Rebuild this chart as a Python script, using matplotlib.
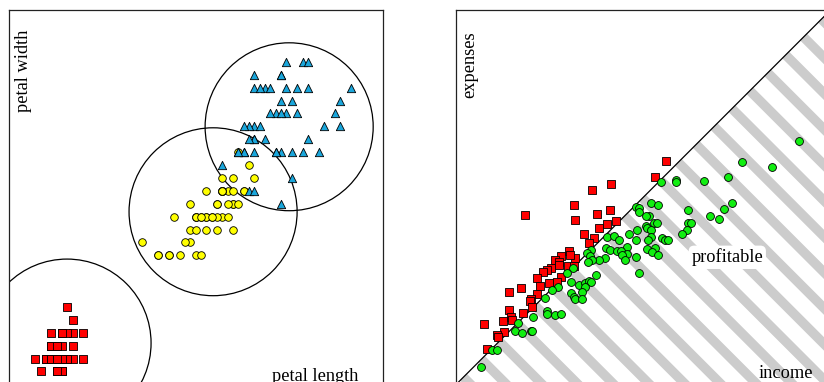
import matplotlib
matplotlib.use("Agg")
import matplotlib.pyplot as plt
from matplotlib.patches import Ellipse, Polygon

plt.rcParams["font.family"] = ["Liberation Serif", "DejaVu Serif"]

# Iris petal measurements (cm), Fisher's data, 50 rows per species
SETOSA_LENGTH = [1.4, 1.4, 1.3, 1.5, 1.4, 1.7, 1.4, 1.5, 1.4, 1.5,
                 1.5, 1.6, 1.4, 1.1, 1.2, 1.5, 1.3, 1.4, 1.7, 1.5,
                 1.7, 1.5, 1.0, 1.7, 1.9, 1.6, 1.6, 1.5, 1.4, 1.6,
                 1.6, 1.5, 1.5, 1.4, 1.5, 1.2, 1.3, 1.4, 1.3, 1.5,
                 1.3, 1.3, 1.3, 1.6, 1.9, 1.4, 1.6, 1.4, 1.5, 1.4]
SETOSA_WIDTH = [0.2, 0.2, 0.2, 0.2, 0.2, 0.4, 0.3, 0.2, 0.2, 0.1,
                0.2, 0.2, 0.1, 0.1, 0.2, 0.4, 0.4, 0.3, 0.3, 0.3,
                0.2, 0.4, 0.2, 0.5, 0.2, 0.2, 0.4, 0.2, 0.2, 0.2,
                0.2, 0.4, 0.1, 0.2, 0.2, 0.2, 0.2, 0.1, 0.2, 0.2,
                0.3, 0.3, 0.2, 0.6, 0.4, 0.3, 0.2, 0.2, 0.2, 0.2]
VERSICOLOR_LENGTH = [4.7, 4.5, 4.9, 4.0, 4.6, 4.5, 4.7, 3.3, 4.6, 3.9,
                     3.5, 4.2, 4.0, 4.7, 3.6, 4.4, 4.5, 4.1, 4.5, 3.9,
                     4.8, 4.0, 4.9, 4.7, 4.3, 4.4, 4.8, 5.0, 4.5, 3.5,
                     3.8, 3.7, 3.9, 5.1, 4.5, 4.5, 4.7, 4.4, 4.1, 4.0,
                     4.4, 4.6, 4.0, 3.3, 4.2, 4.2, 4.2, 4.3, 3.0, 4.1]
VERSICOLOR_WIDTH = [1.4, 1.5, 1.5, 1.3, 1.5, 1.3, 1.6, 1.0, 1.3, 1.4,
                    1.0, 1.5, 1.0, 1.4, 1.3, 1.4, 1.5, 1.0, 1.5, 1.1,
                    1.8, 1.3, 1.5, 1.2, 1.3, 1.4, 1.4, 1.7, 1.5, 1.0,
                    1.1, 1.0, 1.2, 1.6, 1.5, 1.6, 1.5, 1.3, 1.3, 1.3,
                    1.2, 1.4, 1.2, 1.0, 1.3, 1.2, 1.3, 1.3, 1.1, 1.3]
VIRGINICA_LENGTH = [6.0, 5.1, 5.9, 5.6, 5.8, 6.6, 4.5, 6.3, 5.8, 6.1,
                    5.1, 5.3, 5.5, 5.0, 5.1, 5.3, 5.5, 6.7, 6.9, 5.0,
                    5.7, 4.9, 6.7, 4.9, 5.7, 6.0, 4.8, 4.9, 5.6, 5.8,
                    6.1, 6.4, 5.6, 5.1, 5.6, 6.1, 5.6, 5.5, 4.8, 5.4,
                    5.6, 5.1, 5.1, 5.9, 5.7, 5.2, 5.0, 5.2, 5.4, 5.1]
VIRGINICA_WIDTH = [2.5, 1.9, 2.1, 1.8, 2.2, 2.1, 1.7, 1.8, 1.8, 2.5,
                   2.0, 1.9, 2.1, 2.0, 2.4, 2.3, 1.8, 2.2, 2.3, 1.5,
                   2.3, 2.0, 2.0, 1.8, 2.1, 1.8, 1.8, 1.8, 2.1, 1.6,
                   1.9, 2.0, 2.2, 1.5, 1.4, 2.3, 2.4, 1.8, 1.8, 2.1,
                   2.4, 2.3, 1.9, 2.3, 2.5, 2.3, 1.9, 2.0, 2.3, 1.8]

# cluster circles (centre length, centre width)
CLUSTER_CENTERS = [(1.595, 0.32), (4.327, 1.338), (5.75, 1.997)]
CLUSTER_SIZE = (3.144, 1.302)  # ellipse width/height in data units (round on screen)

# Households: income vs expenses
LOSS_INCOME = [210, 199, 155, 136, 118, 69, 141, 154, 119, 160,
               151, 143, 128, 138, 133, 113, 105, 119, 114, 99,
               103, 103, 112, 95, 91, 87, 118, 105, 81, 101,
               93, 84, 65, 53, 81, 75, 74, 53, 76, 67,
               55, 47, 56, 28, 48, 41, 42, 31]
LOSS_EXPENSES = [223, 207, 200, 194, 179, 169, 170, 174, 164, 163,
                 160, 156, 150, 146, 141, 133, 128, 126, 129, 124,
                 122, 119, 118, 116, 114, 112, 118, 107, 106, 102,
                 101, 98, 96, 92, 90, 85, 83, 74, 77, 71,
                 67, 63, 64, 60, 52, 49, 47, 35]
PROFIT_INCOME = [343, 286, 316, 272, 248, 220, 220, 205, 276, 268,
                 232, 254, 263, 232, 235, 231, 226, 195, 202, 180,
                 183, 183, 193, 190, 198, 201, 190, 191, 195, 181,
                 173, 151, 158, 163, 195, 206, 209, 212, 192, 180,
                 171, 150, 154, 161, 165, 191, 199, 196, 202, 171,
                 166, 169, 180, 149, 143, 135, 131, 134, 136, 132,
                 117, 111, 140, 183, 115, 123, 129, 133, 135, 129,
                 102, 96, 115, 126, 118, 119, 126, 89, 91, 91,
                 99, 105, 77, 62, 59, 66, 75, 76, 36, 41, 25]
PROFIT_EXPENSES = [243, 222, 217, 207, 203, 204, 202, 202, 181, 175,
                   174, 168, 165, 161, 161, 154, 150, 181, 179, 177,
                   176, 172, 168, 168, 161, 161, 158, 156, 154, 154,
                   150, 147, 148, 144, 147, 146, 144, 144, 144, 144,
                   137, 136, 134, 133, 133, 135, 136, 132, 129, 130,
                   129, 124, 127, 126, 124, 134, 131, 128, 124, 122,
                   116, 111, 109, 111, 102, 99, 101, 103, 102, 97,
                   97, 94, 91, 92, 87, 85, 85, 86, 73, 70,
                   69, 70, 67, 61, 53, 51, 53, 53, 34, 34, 17]
MONEY_MAX = 374

STRIPE_PERIOD = 35.8
STRIPE_WIDTH = 13.5
STRIPE_PHASE = 14.3

INK = "#222222"
STRIPE_GRAY = "#cccccc"
RED = "#ff0000"
YELLOW = "#ffff00"
BLUE = "#1aa6db"
GREEN = "#11ee11"


def frame(ax):
    ax.set_xticks([])
    ax.set_yticks([])
    for spine in ax.spines.values():
        spine.set_color(INK)
        spine.set_linewidth(0.9)


fig = plt.figure(figsize=(8.24, 3.82), dpi=100)
ax_iris = fig.add_axes([8.5 / 824, -2.3 / 382, 374.2 / 824, 374 / 382])
ax_money = fig.add_axes([456.3 / 824, -2.3 / 382, 374 / 824, 374 / 382])

# --- iris petals ---
frame(ax_iris)
ax_iris.set_xlim(0.5, 7.5)
ax_iris.set_ylim(0, 2.9)
for cx, cy in CLUSTER_CENTERS:
    ax_iris.add_patch(Ellipse((cx, cy), CLUSTER_SIZE[0], CLUSTER_SIZE[1],
                              facecolor="none", edgecolor="black", linewidth=0.9, zorder=1))
ax_iris.scatter(SETOSA_LENGTH, SETOSA_WIDTH, marker="s", s=26, c=RED,
                edgecolors="black", linewidths=0.6, zorder=3)
ax_iris.scatter(VERSICOLOR_LENGTH, VERSICOLOR_WIDTH, marker="o", s=30, c=YELLOW,
                edgecolors="black", linewidths=0.6, zorder=3)
ax_iris.scatter(VIRGINICA_LENGTH, VIRGINICA_WIDTH, marker="^", s=36, c=BLUE,
                edgecolors="black", linewidths=0.6, zorder=4)
ax_iris.text(0.017, 0.949, "petal width", rotation=90, ha="left", va="top",
             fontsize=13.2, transform=ax_iris.transAxes)
ax_iris.text(0.935, 0.010, "petal length", ha="right", va="baseline",
             fontsize=13.2, transform=ax_iris.transAxes)

# --- income vs expenses ---
frame(ax_money)
ax_money.set_xlim(0, MONEY_MAX)
ax_money.set_ylim(0, MONEY_MAX)

profit_zone = Polygon([(0, 0), (MONEY_MAX, 0), (MONEY_MAX, MONEY_MAX)],
                      closed=True, facecolor="none", edgecolor="none",
                      transform=ax_money.transData)
ax_money.add_patch(profit_zone)
offset = STRIPE_PHASE
while offset < 2 * MONEY_MAX + STRIPE_PERIOD:
    lo, hi = offset - STRIPE_WIDTH / 2, offset + STRIPE_WIDTH / 2
    stripe = Polygon([(-400, lo + 400), (800, lo - 800), (800, hi - 800), (-400, hi + 400)],
                     closed=True, facecolor=STRIPE_GRAY, edgecolor="none", zorder=0)
    ax_money.add_patch(stripe)
    stripe.set_clip_path(profit_zone)
    offset += STRIPE_PERIOD

ax_money.axline((0, 0), slope=1, color="black", linewidth=0.9, zorder=1)
ax_money.scatter(LOSS_INCOME, LOSS_EXPENSES, marker="s", s=30, c=RED,
                 edgecolors="black", linewidths=0.6, zorder=3)
ax_money.scatter(PROFIT_INCOME, PROFIT_EXPENSES, marker="o", s=32, c=GREEN,
                 edgecolors="black", linewidths=0.6, zorder=3)

ax_money.text(271, 127, "profitable", ha="center", va="center", fontsize=13.2, zorder=5,
              bbox=dict(boxstyle="round,pad=0.15,rounding_size=0.3",
                        facecolor="white", edgecolor="none"))
ax_money.text(0.014, 0.943, "expenses", rotation=90, ha="left", va="top",
              fontsize=13.2, transform=ax_money.transAxes)
ax_money.text(0.9545, 0.0168, "income", ha="right", va="baseline",
              fontsize=13.2, transform=ax_money.transAxes)

fig.savefig("out.png", dpi=100, facecolor="white")
